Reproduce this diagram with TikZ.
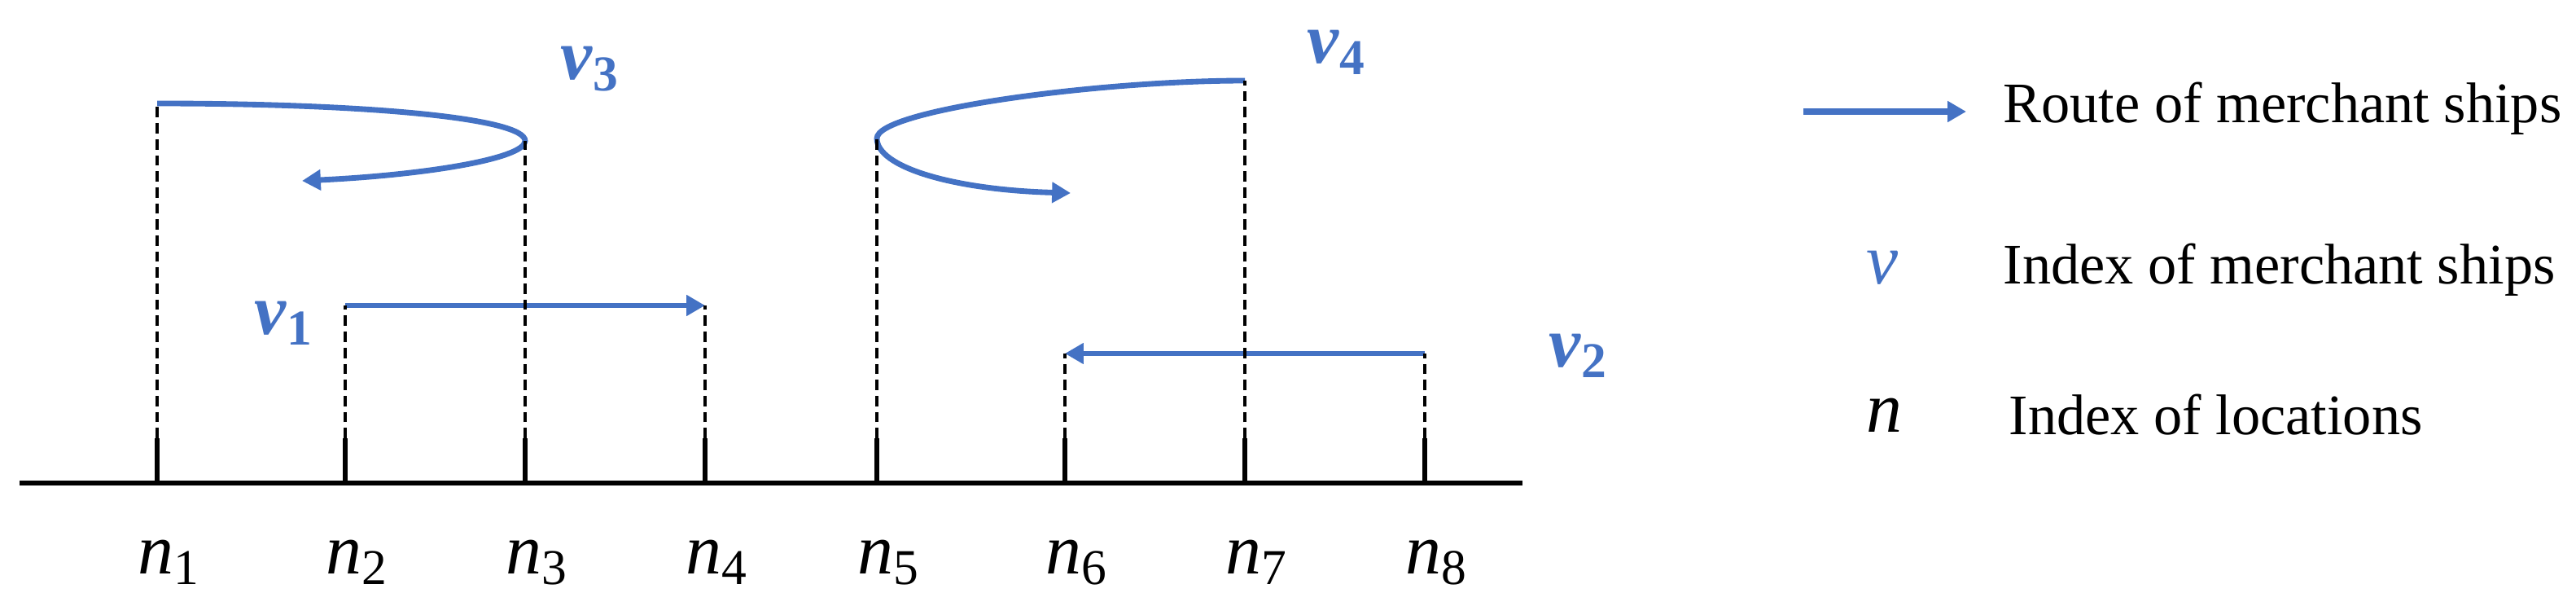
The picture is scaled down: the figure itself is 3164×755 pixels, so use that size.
\documentclass[tikz,border=0pt]{standalone}
\usepackage{fontspec}
\setmainfont{Liberation Serif}[BoldFont={Liberation Serif Bold},
    ItalicFont={Liberation Serif Italic}, BoldItalicFont={Liberation Serif Bold Italic}]
\usetikzlibrary{arrows.meta}
\definecolor{routeblue}{HTML}{4472C4}

\begin{document}
\begin{tikzpicture}[x=0.01cm, y=-0.01cm, font=\fontsize{25}{30}\selectfont,
    route/.style={routeblue, line width=1.95pt, -{Triangle[length=6.5pt, width=7pt]}},
    guide/.style={line width=1.25pt, dash pattern=on 3.6pt off 2pt},
    loctick/.style={line width=1.85pt},
    shiplabel/.style={anchor=base west, inner sep=0pt, text=routeblue},
    legtext/.style={anchor=base west, inner sep=0pt, font=\fontsize{20}{24}\selectfont}]
    \useasboundingbox (0,0) rectangle (3164,755);

    % axis with the locations
    \coordinate (axl) at (24,593);
    \coordinate (axr) at (1870,593);
    \draw[line width=1.95pt] (axl) -- (axr);
    \foreach \i/\x in {1/193, 2/424, 3/645, 4/866, 5/1077, 6/1308, 7/1529, 8/1750} {
        \coordinate (n\i) at (\x, 593);
        \draw[loctick] (n\i) -- ++(0,-55) coordinate (t\i);
        \node[anchor=base west, inner sep=0pt] (ln\i) at (\x-24, 704) {\textit{n}\textsubscript{\i}};
    }

    % ends of the routes
    \coordinate (v1s) at (424,375);
    \coordinate (v1e) at (866,375);
    \coordinate (v2s) at (1750,434);
    \coordinate (v2e) at (1308,434);
    \coordinate (v3s) at (193,127);
    \coordinate (v3m) at (645,173);
    \coordinate (v3e) at (371,222);
    \coordinate (v4s) at (1529,99);
    \coordinate (v4m) at (1077,170);
    \coordinate (v4e) at (1315,237);

    \draw[route] (v1s) -- (v1e);
    \draw[route] (v2s) -- (v2e);
    \draw[route] (v3s) .. controls (450,127) and (645,145) .. (v3m)
                       .. controls (645,195) and (520,215) .. (v3e);
    \draw[route] (v4s) .. controls (1350,99) and (1077,135) .. (v4m)
                       .. controls (1077,205) and (1170,233) .. (v4e);

    \draw[guide] (t1) -- (v3s);
    \draw[guide] (t2) -- (v1s);
    \draw[guide] (t3) -- (v3m);
    \draw[guide] (t4) -- (v1e);
    \draw[guide] (t5) -- (v4m);
    \draw[guide] (t6) -- (v2e);
    \draw[guide] (t7) -- (v4s);
    \draw[guide] (t8) -- (v2s);

    \node[shiplabel] (v1) at (312,410) {\textbf{\textit{v}\textsubscript{1}}};
    \node[shiplabel] (v2) at (1902,450) {\textbf{\textit{v}\textsubscript{2}}};
    \node[shiplabel] (v3) at (688,98) {\textbf{\textit{v}\textsubscript{3}}};
    \node[shiplabel] (v4) at (1605,78) {\textbf{\textit{v}\textsubscript{4}}};

    % legend
    \coordinate (la) at (2215,137);
    \coordinate (lb) at (2415,137);
    \draw[route, line width=2.2pt] (la) -- (lb);
    \node[legtext] (lroute) at (2460,151) {Route of merchant ships};
    \node[anchor=base west, inner sep=0pt, text=routeblue] (lv) at (2292,349) {\textit{v}};
    \node[legtext] (lship) at (2460,349) {Index of merchant ships};
    \node[anchor=base west, inner sep=0pt] (ln) at (2292,530) {\textit{n}};
    \node[legtext] (lloc) at (2467,533) {Index of locations};
\end{tikzpicture}
\end{document}
